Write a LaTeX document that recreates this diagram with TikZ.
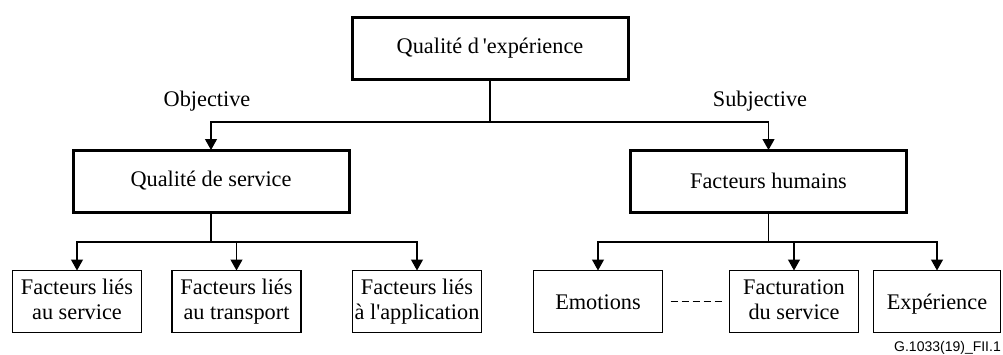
\documentclass[tikz,border=0pt]{standalone}
\usepackage{fontspec}
\setmainfont{Liberation Serif}
\newfontfamily\figsans{Liberation Sans}
\usetikzlibrary{arrows.meta}
% struts that keep every leaf label on the same baselines
\newcommand\leaftop{\rule{0pt}{20.5pt}}
\newcommand\leafbot{\rule[-4.5pt]{0pt}{4.5pt}}
\begin{document}
\begin{tikzpicture}[x=1pt,y=-1pt,
  font=\fontsize{22.3}{25}\selectfont,
  bigbox/.style={draw,line width=3pt,minimum width=276pt,minimum height=62pt,inner sep=0pt,outer sep=0pt},
  leafbox/.style={draw,line width=1.3pt,minimum width=129pt,minimum height=62pt,inner sep=0pt,outer sep=0pt,align=center,
    execute at begin node=\leaftop,execute at end node=\leafbot},
  link/.style={line width=1.2pt},
  arr/.style={link,-{Triangle[width=12pt,length=11pt]}},
  tag/.style={inner sep=0pt}]
\useasboundingbox (0,0) rectangle (1003,354);

% top level
\node[bigbox] (qoe) at (490,48) {Qualité d\thinspace\textquotesingle expérience};

% second level
\node[bigbox] (qos) at (211,181) {Qualité de service};
\node[bigbox] (fh)  at (768.5,181) {Facteurs humains};

% leaves under Qualité de service
\node[leafbox] (srv) at (77,301.5)  {Facteurs liés\\au service};
\node[leafbox] (trp) at (236.5,301.5) {Facteurs liés\\au transport};
\node[leafbox] (app) at (417,301.5) {Facteurs liés\\à l\textquotesingle application};

% leaves under Facteurs humains
\node[leafbox] (emo) at (598,301.5) {Emotions};
\node[leafbox] (fac) at (794,301.5) {Facturation\\du service};
\node[leafbox,minimum width=127pt] (exp) at (937,301.5) {Expérience};

% branch labels
\node[tag] (obj) at (207,101) {Objective};
\node[tag] (sub) at (760,101) {Subjective};

% junction points
\coordinate (j0) at (490,122);
\coordinate (j1) at (211,242);
\coordinate (j2) at (768.5,242);

\draw[link] (qoe.south) -- (j0);
\draw[arr] (j0) -| (qos.north);
\draw[arr] (j0) -| (fh.north);

\draw[link] (qos.south) -- (j1);
\draw[arr] (j1) -| (srv.north);
\draw[arr] (j1) -| (trp.north);
\draw[arr] (j1) -| (app.north);

\draw[link] (fh.south) -- (j2);
\draw[arr] (j2) -| (emo.north);
\draw[arr] (j2) -| (fac.north);
\draw[arr] (j2) -| (exp.north);

\draw[line width=1.8pt,dash pattern=on 7pt off 4pt,shorten <=8pt,shorten >=7.5pt] (emo.east) -- (fac.west);

% figure reference
\node[tag,anchor=base east,font=\figsans\fontsize{14}{16}\selectfont] (ref) at (1001,351) {G.1033(19)\_FII.1};
\end{tikzpicture}
\end{document}
